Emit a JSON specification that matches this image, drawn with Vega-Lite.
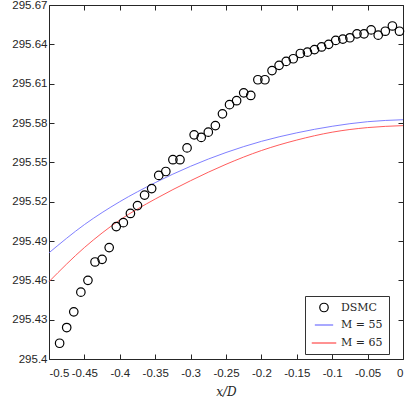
{
  "$schema": "https://vega.github.io/schema/vega-lite/v6.json",
  "width": 354,
  "height": 354,
  "autosize": {"type": "none"},
  "padding": {"left": 49, "top": 5, "right": 4, "bottom": 40},
  "background": "white",
  "config": {
    "view": {"stroke": null},
    "axis": {
      "grid": false,
      "domainColor": "#262626",
      "domainWidth": 1,
      "tickColor": "#262626",
      "tickWidth": 1,
      "labelColor": "#262626",
      "labelFont": "Liberation Sans",
      "labelFontSize": 11.5,
      "titleColor": "#262626"
    },
    "legend": {
      "orient": "none",
      "legendX": 256,
      "legendY": 291,
      "strokeColor": "#333333",
      "fillColor": "white",
      "padding": 6,
      "labelFont": "DejaVu Serif",
      "labelFontSize": 11,
      "labelColor": "#262626",
      "symbolStrokeWidth": 1.2,
      "rowPadding": -2,
      "title": null
    }
  },
  "datasets": {
    "dsmc": [
      {"x": -0.485, "y": 295.412}, {"x": -0.475, "y": 295.424}, {"x": -0.465, "y": 295.436},
      {"x": -0.455, "y": 295.451}, {"x": -0.445, "y": 295.460}, {"x": -0.435, "y": 295.474},
      {"x": -0.425, "y": 295.476}, {"x": -0.415, "y": 295.485}, {"x": -0.405, "y": 295.501},
      {"x": -0.395, "y": 295.504}, {"x": -0.385, "y": 295.511}, {"x": -0.375, "y": 295.517},
      {"x": -0.365, "y": 295.525}, {"x": -0.355, "y": 295.530}, {"x": -0.345, "y": 295.540},
      {"x": -0.335, "y": 295.543}, {"x": -0.325, "y": 295.552}, {"x": -0.315, "y": 295.552},
      {"x": -0.305, "y": 295.561}, {"x": -0.295, "y": 295.571}, {"x": -0.285, "y": 295.569},
      {"x": -0.275, "y": 295.573}, {"x": -0.265, "y": 295.578}, {"x": -0.255, "y": 295.587},
      {"x": -0.245, "y": 295.594}, {"x": -0.235, "y": 295.597}, {"x": -0.225, "y": 295.603},
      {"x": -0.215, "y": 295.601}, {"x": -0.205, "y": 295.613}, {"x": -0.195, "y": 295.613},
      {"x": -0.185, "y": 295.620}, {"x": -0.175, "y": 295.624}, {"x": -0.165, "y": 295.627},
      {"x": -0.155, "y": 295.629}, {"x": -0.145, "y": 295.633}, {"x": -0.135, "y": 295.634},
      {"x": -0.125, "y": 295.636}, {"x": -0.115, "y": 295.638}, {"x": -0.105, "y": 295.640},
      {"x": -0.095, "y": 295.643}, {"x": -0.085, "y": 295.644}, {"x": -0.075, "y": 295.645},
      {"x": -0.065, "y": 295.648}, {"x": -0.055, "y": 295.648}, {"x": -0.045, "y": 295.651},
      {"x": -0.035, "y": 295.647}, {"x": -0.025, "y": 295.650}, {"x": -0.015, "y": 295.654},
      {"x": -0.005, "y": 295.650}
    ],
    "sim": [
      {"series": "M = 55", "x": -0.5, "y": 295.481},
      {"series": "M = 55", "x": -0.45, "y": 295.5025},
      {"series": "M = 55", "x": -0.4, "y": 295.520},
      {"series": "M = 55", "x": -0.35, "y": 295.5345},
      {"series": "M = 55", "x": -0.3, "y": 295.547},
      {"series": "M = 55", "x": -0.25, "y": 295.5575},
      {"series": "M = 55", "x": -0.2, "y": 295.566},
      {"series": "M = 55", "x": -0.15, "y": 295.5725},
      {"series": "M = 55", "x": -0.1, "y": 295.5775},
      {"series": "M = 55", "x": -0.05, "y": 295.581},
      {"series": "M = 55", "x": 0.0, "y": 295.5825},
      {"series": "M = 65", "x": -0.5, "y": 295.459},
      {"series": "M = 65", "x": -0.45, "y": 295.485},
      {"series": "M = 65", "x": -0.4, "y": 295.506},
      {"series": "M = 65", "x": -0.35, "y": 295.522},
      {"series": "M = 65", "x": -0.3, "y": 295.536},
      {"series": "M = 65", "x": -0.25, "y": 295.5485},
      {"series": "M = 65", "x": -0.2, "y": 295.559},
      {"series": "M = 65", "x": -0.15, "y": 295.567},
      {"series": "M = 65", "x": -0.1, "y": 295.573},
      {"series": "M = 65", "x": -0.05, "y": 295.5765},
      {"series": "M = 65", "x": 0.0, "y": 295.578}
    ]
  },
  "resolve": {"axis": {"x": "independent", "y": "independent"}},
  "layer": [
    {
      "data": {"name": "sim"},
      "mark": {"type": "line", "strokeWidth": 0.9, "interpolate": "monotone"},
      "encoding": {
        "x": {"field": "x", "type": "quantitative", "scale": {"domain": [-0.5, 0], "nice": false, "zero": false}, "axis": null},
        "y": {"field": "y", "type": "quantitative", "scale": {"domain": [295.4, 295.67], "nice": false, "zero": false}, "axis": null},
        "color": {"field": "series", "type": "nominal",
          "scale": {"domain": ["DSMC", "M = 55", "M = 65"], "range": ["black", "#7070ff", "#ff4a4a"]}}
      }
    },
    {
      "data": {"name": "dsmc"},
      "transform": [{"calculate": "'DSMC'", "as": "series"}],
      "mark": {"type": "point", "filled": false, "strokeWidth": 1.2, "opacity": 1},
      "encoding": {
        "x": {"field": "x", "type": "quantitative",
          "axis": {"orient": "bottom", "values": [-0.5, -0.45, -0.4, -0.35, -0.3, -0.25, -0.2, -0.15, -0.1, -0.05, 0],
            "tickSize": -5, "labelPadding": 13, "labelExpr": "'' + datum.value",
            "title": "x/D", "titleFont": "DejaVu Serif", "titleFontStyle": "italic", "titleFontWeight": "normal", "titleFontSize": 12, "titlePadding": 8}},
        "y": {"field": "y", "type": "quantitative",
          "axis": {"orient": "left", "values": [295.4, 295.43, 295.46, 295.49, 295.52, 295.55, 295.58, 295.61, 295.64, 295.67],
            "tickSize": -5, "labelPadding": 7, "labelExpr": "'' + datum.value", "title": null}},
        "color": {"field": "series", "type": "nominal"},
        "shape": {"field": "series", "type": "nominal",
          "scale": {"domain": ["DSMC", "M = 55", "M = 65"], "range": ["circle", "stroke", "stroke"]}},
        "size": {"field": "series", "type": "nominal",
          "scale": {"domain": ["DSMC", "M = 55", "M = 65"], "range": [72, 600, 600]}}
      }
    },
    {
      "data": {"name": "dsmc"},
      "mark": {"type": "point", "opacity": 0},
      "encoding": {
        "x": {"field": "x", "type": "quantitative",
          "axis": {"orient": "top", "values": [-0.5, -0.45, -0.4, -0.35, -0.3, -0.25, -0.2, -0.15, -0.1, -0.05, 0],
            "tickSize": -5, "labels": false, "title": null}},
        "y": {"field": "y", "type": "quantitative",
          "axis": {"orient": "right", "values": [295.4, 295.43, 295.46, 295.49, 295.52, 295.55, 295.58, 295.61, 295.64, 295.67],
            "tickSize": -5, "labels": false, "title": null}}
      }
    }
  ]
}
